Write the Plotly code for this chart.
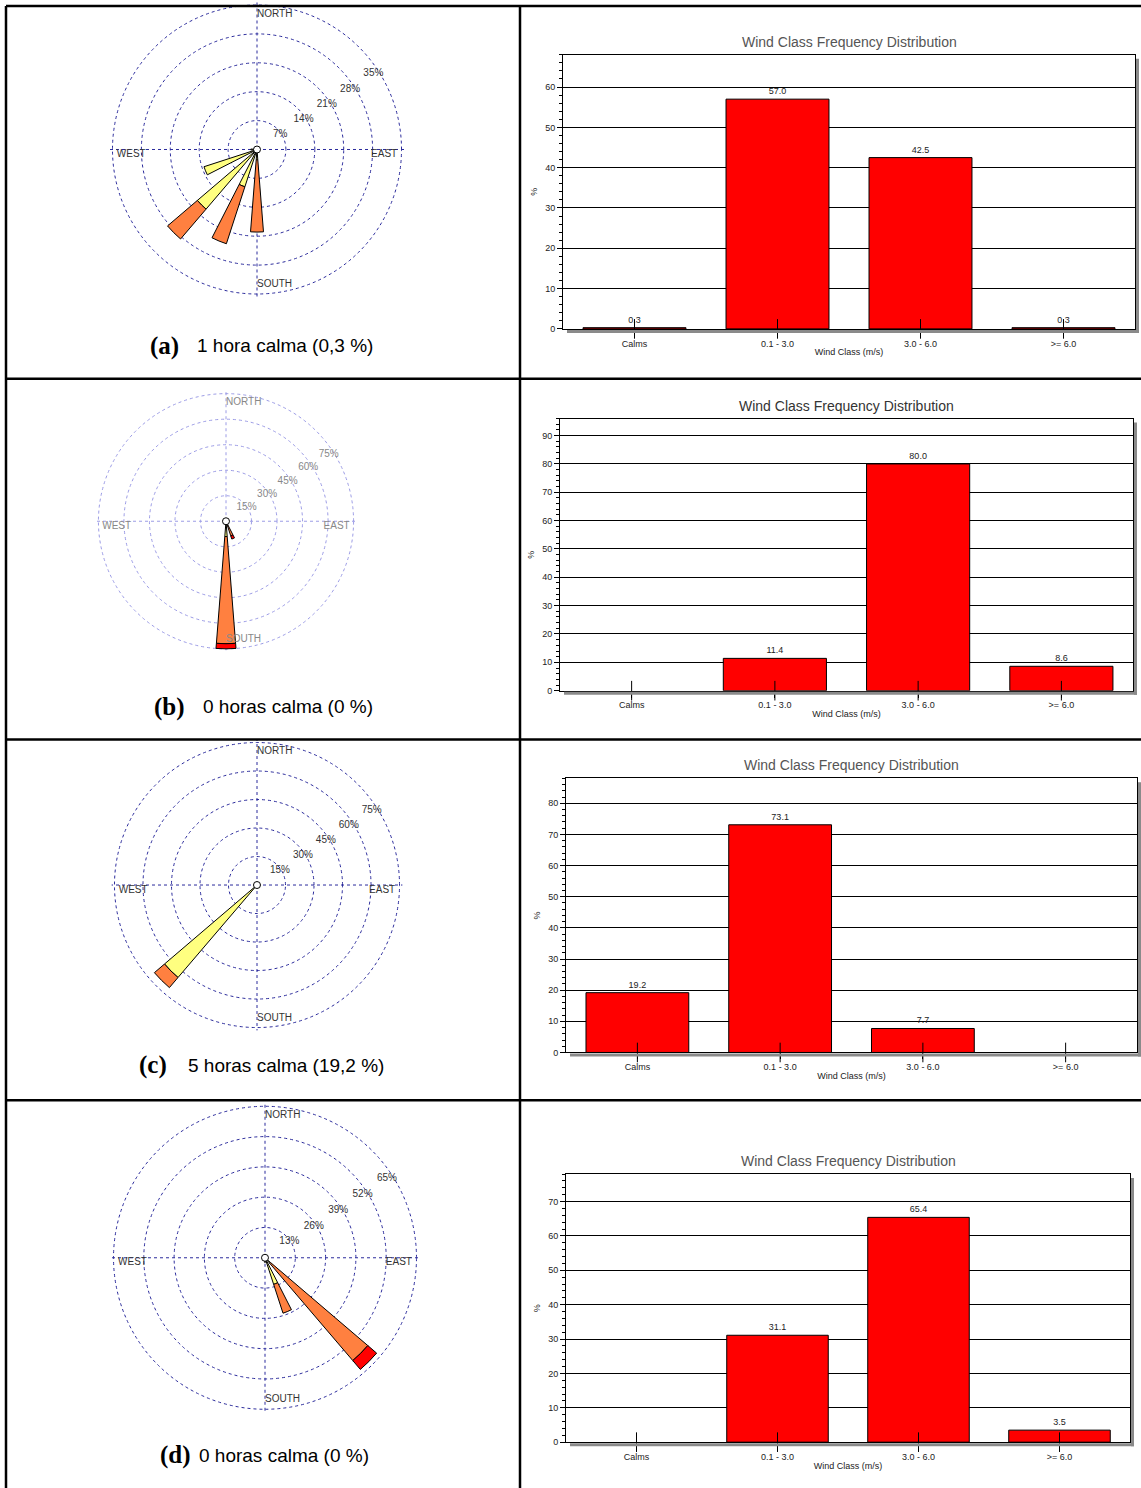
import plotly.graph_objects as go

W, H = 1141, 1494

# wind class frequency distribution (bar charts, %)
classes = ['Calms', '0.1 - 3.0', '3.0 - 6.0', '>= 6.0']
freq_a = [0.3, 57.0, 42.5, 0.3]
freq_b = [None, 11.4, 80.0, 8.6]
freq_c = [19.2, 73.1, 7.7, None]
freq_d = [None, 31.1, 65.4, 3.5]

# wind roses: direction (deg from north) and % per speed class
dir_a = [180, 202.5, 225, 247.5, 270]
low_a = [2.5, 9.5, 19.0, 13.5, 1.5]
mid_a = [17.5, 14.5, 9.5, 0, 0]
high_a = [0, 0, 0, 0, 0]
rings_a = [7, 14, 21, 28, 35]

dir_b = [180, 157.5]
low_b = [9.0, 1.0]
mid_b = [63.0, 8.0]
high_b = [3.0, 2.0]
rings_b = [15, 30, 45, 60, 75]

dir_c = [225, 247.5]
low_c = [64.0, 1.0]
mid_c = [7.0, 0]
high_c = [0, 0]
rings_c = [15, 30, 45, 60, 75]

dir_d = [180, 157.5, 135]
low_d = [2.0, 12.0, 3.0]
mid_d = [0, 13.0, 55.0]
high_d = [0, 0, 5.0]
rings_d = [13, 26, 39, 52, 65]

compass = ['NORTH', 'EAST', 'SOUTH', 'WEST']
captions = [('(a)', '1 hora calma (0,3 %)'), ('(b)', '0 horas calma (0 %)'),
            ('(c)', '5 horas calma (19,2 %)'), ('(d)', '0 horas calma (0 %)')]

SANS = 'Liberation Sans, Arial, sans-serif'
SERIF = 'Liberation Serif, Times New Roman, serif'
YELLOW, ORANGE, RED = '#FFFF80', '#FF8040', '#FF0000'


def fx(p):
    return p / W


def fy(p):
    return 1 - p / H


fig = go.Figure()

roses = [
    (dir_a, low_a, mid_a, high_a, rings_a, (257, 150, 145), '#2b2b9c', '#333333'),
    (dir_b, low_b, mid_b, high_b, rings_b, (226, 523, 128), '#9c9ce6', '#888888'),
    (dir_c, low_c, mid_c, high_c, rings_c, (257, 888, 143), '#2b2b9c', '#333333'),
    (dir_d, low_d, mid_d, high_d, rings_d, (265, 1262, 152), '#2b2b9c', '#333333'),
]

for i, (dirs, low, mid, high, rings, (cx, cy, rad), gcol, tcol) in enumerate(roses):
    sp = 'polar' if i == 0 else 'polar%d' % (i + 1)
    rmax = rings[-1]
    span = rmax * 1.02
    for vals, col in [(low, YELLOW), (mid, ORANGE), (high, RED)]:
        fig.add_trace(go.Barpolar(r=vals, theta=dirs, width=9, marker_color=col,
                                  marker_line=dict(color='black', width=1),
                                  subplot=sp, showlegend=False, hoverinfo='skip'))
    # compass labels just inside the outer ring
    fig.add_trace(go.Scatterpolar(r=[rmax * 0.97] * 4, theta=[0, 90, 180, 270], mode='text',
                                  text=compass,
                                  textposition=['bottom right', 'bottom left', 'top right', 'bottom right'],
                                  textfont=dict(family=SANS, size=10, color=tcol),
                                  cliponaxis=False, subplot=sp, showlegend=False, hoverinfo='skip'))
    # ring labels
    fig.add_trace(go.Scatterpolar(r=[v * 0.96 for v in rings], theta=[57] * len(rings), mode='text',
                                  text=['%d%%' % v for v in rings], textposition='middle center',
                                  textfont=dict(family=SANS, size=10, color=tcol),
                                  cliponaxis=False, subplot=sp, showlegend=False, hoverinfo='skip'))
    fig.add_trace(go.Scatterpolar(r=[0], theta=[0], mode='markers',
                                  marker=dict(symbol='circle', size=7, color='white',
                                              line=dict(color='black', width=1)),
                                  cliponaxis=False, subplot=sp, showlegend=False, hoverinfo='skip'))
    R = rad * span / rmax
    fig.layout[sp] = dict(
        domain=dict(x=[fx(cx - R), fx(cx + R)], y=[fy(cy + R), fy(cy - R)]),
        bgcolor='white', barmode='stack',
        radialaxis=dict(range=[0, span], tickvals=rings, showticklabels=False,
                        showline=False, ticks='', gridcolor=gcol, gridwidth=1,
                        griddash='3px,3px'),
        angularaxis=dict(rotation=90, direction='clockwise', tickvals=[0, 90, 180, 270],
                         showticklabels=False, ticks='', showline=False, gridcolor=gcol,
                         gridwidth=1, griddash='3px,3px'),
    )

bars = [
    (freq_a, (563, 1135, 55, 330), 68, '#555555'),
    (freq_b, (560, 1133, 420, 693), 96, '#333333'),
    (freq_c, (566, 1137, 781, 1056), 88, '#555555'),
    (freq_d, (566, 1130, 1178, 1447), 78, '#555555'),
]

shapes = []
annotations = []

for i, (freq, (x0, x1, y0, y1), ymax, titlecol) in enumerate(bars):
    n = '' if i == 0 else str(i + 1)
    fig.add_trace(go.Bar(x=classes, y=freq, width=0.72, marker_color=RED,
                         marker_line=dict(color='black', width=1),
                         text=['%.1f' % v if v is not None else '' for v in freq],
                         textposition='outside', textfont=dict(family=SANS, size=9, color='#222222'),
                         cliponaxis=False, xaxis='x' + n, yaxis='y' + n,
                         showlegend=False, hoverinfo='skip'))
    fig.add_trace(go.Scatter(x=classes, y=[0] * 4, mode='markers',
                             marker=dict(symbol='line-ns', size=14, line=dict(color='black', width=1)),
                             cliponaxis=False, xaxis='x' + n, yaxis='y' + n,
                             showlegend=False, hoverinfo='skip'))
    fig.layout['xaxis' + n] = dict(
        domain=[fx(x0), fx(x1)], range=[-0.5, 3.5], anchor='y' + n,
        showline=True, mirror=True, linecolor='black', linewidth=1,
        ticks='outside', ticklen=6, tickcolor='black', showgrid=False,
        tickfont=dict(family=SANS, size=9, color='#222222'),
        title=dict(text='Wind Class (m/s)', font=dict(family=SANS, size=9, color='#222222'), standoff=1),
    )
    fig.layout['yaxis' + n] = dict(
        domain=[fy(y1), fy(y0)], range=[0, ymax], dtick=10, anchor='x' + n,
        showline=True, mirror=True, linecolor='black', linewidth=1,
        ticks='outside', ticklen=5, tickcolor='black',
        minor=dict(ticks='outside', ticklen=3, dtick=2, tickcolor='black'),
        showgrid=True, gridcolor='black', gridwidth=1, zeroline=False,
        tickfont=dict(family=SANS, size=9, color='#222222'),
        title=dict(text='%', font=dict(family=SANS, size=9, color='#222222'), standoff=6),
    )
    # frame shadow
    shapes.append(dict(type='rect', xref='paper', yref='paper', x0=fx(x1 + 1), x1=fx(x1 + 4),
                       y0=fy(y1 + 4), y1=fy(y0 + 4), fillcolor='#8a8a8a', line_width=0))
    shapes.append(dict(type='rect', xref='paper', yref='paper', x0=fx(x0 + 4), x1=fx(x1 + 4),
                       y0=fy(y1 + 4), y1=fy(y1 + 1), fillcolor='#8a8a8a', line_width=0))
    annotations.append(dict(text='Wind Class Frequency Distribution', xref='paper', yref='paper',
                            x=fx((x0 + x1) / 2), y=fy(y0 - 3), xanchor='center', yanchor='bottom',
                            showarrow=False, font=dict(family=SANS, size=14, color=titlecol)))

# captions
cap_pos = [(148, 195, 347), (152, 201, 709), (137, 186, 1069), (158, 197, 1460)]
for (lab, txt), (xl, xt, yc) in zip(captions, cap_pos):
    annotations.append(dict(text='<b>%s</b>' % lab, xref='paper', yref='paper', x=fx(xl), y=fy(yc),
                            xanchor='left', yanchor='middle', showarrow=False,
                            font=dict(family=SERIF, size=25, color='black')))
    annotations.append(dict(text=txt, xref='paper', yref='paper', x=fx(xt), y=fy(yc),
                            xanchor='left', yanchor='middle', showarrow=False,
                            font=dict(family=SANS, size=19, color='black')))

# table borders
for ypx in [6, 380, 742, 1104]:
    shapes.append(dict(type='line', xref='paper', yref='paper', x0=fx(6), x1=1, y0=fy(ypx), y1=fy(ypx),
                       line=dict(color='black', width=2.5)))
for xpx in [6, 520]:
    shapes.append(dict(type='line', xref='paper', yref='paper', x0=fx(xpx), x1=fx(xpx), y0=0, y1=fy(6),
                       line=dict(color='black', width=2.5)))

fig.update_layout(width=W, height=H, margin=dict(l=0, r=0, t=0, b=0),
                  paper_bgcolor='white', plot_bgcolor='white',
                  shapes=shapes, annotations=annotations, showlegend=False)

fig.write_html('out.html', config={'displayModeBar': False},
               post_script="document.body.style.margin='0';"
                           "document.documentElement.style.overflow='hidden';"
                           "var gd=document.getElementById('{plot_id}');"
                           "gd.style.position='absolute';gd.style.top='0';gd.style.left='0';")
